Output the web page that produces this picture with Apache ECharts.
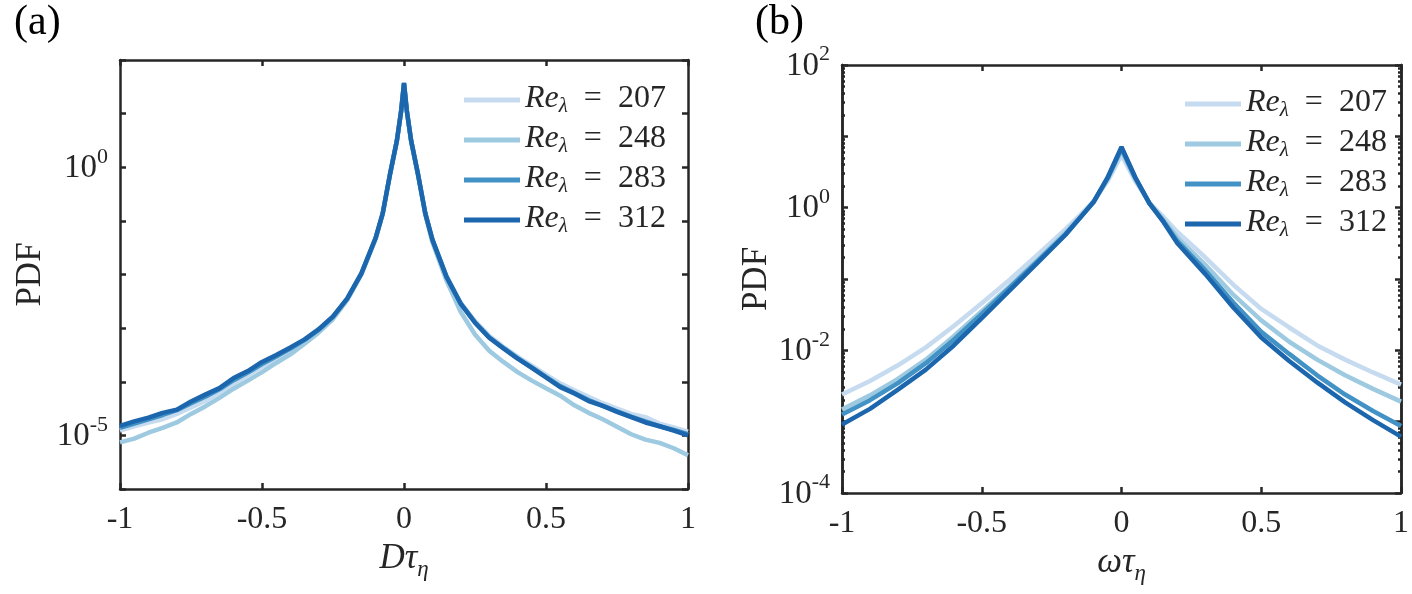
<!DOCTYPE html>
<html><head><meta charset="utf-8">
<script src="https://cdn.jsdelivr.net/npm/echarts@6/dist/echarts.min.js"></script>
<style>html,body{margin:0;padding:0;background:#fff}#c{width:1412px;height:594px}</style>
</head><body><div id="c"></div>
<script>
// ---- data ----
const reLabels = ['207', '248', '283', '312'];
const colors = ['#c6dbef', '#9ecae1', '#4292c6', '#1c66ad'];

// panel (a): PDF of D*tau_eta
const xA = [-1,-0.95,-0.9,-0.85,-0.8,-0.75,-0.7,-0.65,-0.6,-0.55,-0.5,-0.45,-0.4,-0.35,-0.3,-0.25,-0.2,-0.15,-0.1,-0.075,-0.05,-0.025,-0.01,0,0.01,0.025,0.05,0.075,0.1,0.15,0.2,0.25,0.3,0.35,0.4,0.45,0.5,0.55,0.6,0.65,0.7,0.75,0.8,0.85,0.9,0.95,1];
const pdfA207 = [1.23e-5,1.48e-5,1.74e-5,2.00e-5,2.51e-5,3.31e-5,4.37e-5,6.31e-5,9.12e-5,1.32e-4,1.91e-4,2.69e-4,3.80e-4,5.62e-4,8.91e-4,1.58e-3,3.47e-3,1.02e-2,4.68e-2,0.135,0.692,3.02,10.5,33.9,10.5,3.02,0.692,0.135,4.37e-2,8.91e-3,2.95e-3,1.35e-3,7.24e-4,4.47e-4,2.95e-4,2.00e-4,1.35e-4,9.33e-5,6.92e-5,5.25e-5,3.98e-5,3.16e-5,2.51e-5,2.19e-5,1.66e-5,1.41e-5,1.17e-5];
const pdfA248 = [7.41e-6,8.71e-6,1.12e-5,1.38e-5,1.74e-5,2.51e-5,3.47e-5,5.01e-5,7.41e-5,1.05e-4,1.51e-4,2.24e-4,3.24e-4,5.13e-4,8.32e-4,1.48e-3,3.31e-3,1.00e-2,4.57e-2,0.135,0.708,3.16,11.2,35.5,11.2,3.16,0.708,0.132,3.98e-2,7.59e-3,2.00e-3,7.59e-4,3.80e-4,2.34e-4,1.51e-4,1.05e-4,7.59e-5,5.50e-5,3.63e-5,2.63e-5,2.00e-5,1.45e-5,1.05e-5,8.32e-6,7.24e-6,5.75e-6,4.27e-6];
const pdfA283 = [1.38e-5,1.66e-5,2.00e-5,2.40e-5,2.95e-5,3.98e-5,5.25e-5,7.24e-5,1.07e-4,1.48e-4,2.14e-4,2.95e-4,4.17e-4,6.03e-4,9.33e-4,1.62e-3,3.55e-3,1.05e-2,4.79e-2,0.138,0.708,3.16,11.5,37.2,11.5,3.16,0.708,0.138,4.47e-2,9.12e-3,2.88e-3,1.29e-3,6.76e-4,4.27e-4,2.75e-4,1.86e-4,1.23e-4,8.32e-5,6.17e-5,4.57e-5,3.55e-5,2.82e-5,2.24e-5,1.82e-5,1.48e-5,1.26e-5,1.05e-5];
const pdfA312 = [1.51e-5,1.82e-5,2.14e-5,2.63e-5,3.02e-5,4.27e-5,5.75e-5,7.59e-5,1.17e-4,1.58e-4,2.34e-4,3.16e-4,4.37e-4,6.17e-4,9.55e-4,1.66e-3,3.55e-3,1.05e-2,4.79e-2,0.138,0.708,3.16,11.2,37.2,11.2,3.16,0.708,0.138,4.47e-2,8.91e-3,2.82e-3,1.26e-3,6.61e-4,4.17e-4,2.69e-4,1.82e-4,1.20e-4,7.94e-5,6.03e-5,4.37e-5,3.55e-5,2.75e-5,2.19e-5,1.74e-5,1.48e-5,1.23e-5,1.00e-5];

// panel (b): PDF of omega*tau_eta
const xB = [-1,-0.9,-0.8,-0.7,-0.6,-0.5,-0.4,-0.3,-0.2,-0.15,-0.1,-0.05,0,0.05,0.1,0.15,0.2,0.3,0.4,0.5,0.6,0.7,0.8,0.9,1];
const pdfB207 = [2.40e-3,3.72e-3,6.17e-3,1.10e-2,2.19e-2,4.57e-2,9.77e-2,0.219,0.501,0.776,1.23,2.34,5.50,2.34,1.17,0.741,0.457,0.200,8.32e-2,3.80e-2,2.09e-2,1.17e-2,7.41e-3,4.90e-3,3.31e-3];
const pdfB248 = [1.48e-3,2.34e-3,3.98e-3,7.41e-3,1.58e-2,3.55e-2,7.94e-2,0.186,0.447,0.724,1.20,2.51,6.31,2.51,1.15,0.676,0.380,0.158,6.03e-2,2.63e-2,1.32e-2,7.41e-3,4.47e-3,2.88e-3,1.91e-3];
const pdfB283 = [1.26e-3,2.00e-3,3.47e-3,6.61e-3,1.41e-2,3.24e-2,7.59e-2,0.178,0.427,0.708,1.20,2.57,6.76,2.57,1.15,0.646,0.339,0.132,4.68e-2,1.82e-2,8.91e-3,4.47e-3,2.40e-3,1.41e-3,8.71e-4];
const pdfB312 = [9.12e-4,1.51e-3,2.82e-3,5.37e-3,1.17e-2,2.82e-2,6.92e-2,0.170,0.417,0.708,1.20,2.63,7.08,2.63,1.15,0.631,0.316,0.117,3.98e-2,1.51e-2,7.08e-3,3.55e-3,1.86e-3,1.05e-3,6.17e-4];

// ticks
const xTickMin = -1, xTickMax = 1, xTickStep = 0.5;
const yTicksA = [1e-6,1e-5,1e-4,1e-3,1e-2,1e-1,1,10,100];
const yLabelsA = [1e-5, 1];
const yTicksB = [1e-4,1e-3,1e-2,1e-1,1,10,100];
const yLabelsB = [1e-4,1e-2,1,100];
const yMinorB = [];
for (let k = -4; k < 2; k++) for (let m = 2; m <= 9; m++) yMinorB.push(m * Math.pow(10, k));

// ---- chart ----
const FONT = '"Liberation Serif","DejaVu Serif",serif';
const INK = '#262626';
const chart = echarts.init(document.getElementById('c'), null, {renderer: 'canvas'});

const lineSt = {color: INK, width: 2.5};
const tickSt = {inside: true, length: 6, lineStyle: {color: INK, width: 2.5}};
const logRich = {
  b: {fontFamily: FONT, fontSize: 33, color: INK, lineHeight: 35, verticalAlign: 'bottom'},
  s: {fontFamily: FONT, fontSize: 22, color: INK, lineHeight: 22, padding: [0, 0, 17, 0], verticalAlign: 'bottom'}
};
function logFmt(v) {
  const e = Math.round(Math.log10(v));
  return '{b|10}{s|' + (e < 0 ? '-' + (-e) : e) + '}';
}
function xAx(grid, top, name) {
  const a = {
    type: 'value', gridIndex: grid, position: top ? 'top' : 'bottom',
    min: xTickMin, max: xTickMax, interval: xTickStep,
    axisLine: {show: true, onZero: false, lineStyle: lineSt},
    axisTick: tickSt, splitLine: {show: false},
    axisLabel: {show: !top, fontFamily: FONT, fontSize: 32, color: INK, margin: 15}
  };
  if (name) {
    a.name = name; a.nameLocation = 'middle'; a.nameGap = 52;
    a.nameTextStyle = {rich: {
      i: {fontFamily: FONT, fontStyle: 'italic', fontSize: 35, color: INK, lineHeight: 38, verticalAlign: 'top'},
      s: {fontFamily: FONT, fontStyle: 'italic', fontSize: 23, color: INK, lineHeight: 23, padding: [17, 0, 0, 0], verticalAlign: 'top'}
    }};
  }
  return a;
}
function yAx(grid, right, min, max, ticks, labels, tickLen, nameGap) {
  const a = {
    type: 'log', logBase: 10, gridIndex: grid, position: right ? 'right' : 'left',
    min: min, max: max,
    axisLine: {show: true, onZero: false, lineStyle: lineSt},
    axisTick: {inside: true, length: tickLen, customValues: ticks, lineStyle: {color: INK, width: 2.5}},
    splitLine: {show: false}, minorTick: {show: false},
    axisLabel: labels ? {show: true, customValues: labels, formatter: logFmt, rich: logRich, margin: 12}
                      : {show: false}
  };
  if (nameGap) {
    a.name = 'PDF'; a.nameLocation = 'middle'; a.nameGap = nameGap;
    a.nameTextStyle = {fontFamily: FONT, fontSize: 35, color: INK};
  }
  return a;
}

const xName = (sym) => '{i|' + sym + 'τ}{s|η}';

const series = [];
const setsA = [pdfA207, pdfA248, pdfA283, pdfA312];
const setsB = [pdfB207, pdfB248, pdfB283, pdfB312];
reLabels.forEach((r, i) => {
  series.push({type: 'line', name: r, xAxisIndex: 0, yAxisIndex: 0, showSymbol: false, symbol: 'none',
    color: colors[i], lineStyle: {width: 4.5, color: colors[i]}, z: 2 + i,
    data: xA.map((x, j) => [x, setsA[i][j]])});
  series.push({type: 'line', name: r, xAxisIndex: 2, yAxisIndex: 2, showSymbol: false, symbol: 'none',
    color: colors[i], lineStyle: {width: 4.5, color: colors[i]}, z: 2 + i,
    data: xB.map((x, j) => [x, setsB[i][j]])});
});

const legRich = {
  r: {fontFamily: FONT, fontStyle: 'italic', fontSize: 32, color: INK, lineHeight: 34, verticalAlign: 'top'},
  l: {fontFamily: FONT, fontStyle: 'italic', fontSize: 21, color: INK, lineHeight: 21, padding: [13, 0, 0, 0], verticalAlign: 'top'},
  e: {fontFamily: FONT, fontSize: 32, color: INK, lineHeight: 34, verticalAlign: 'top'}
};
function legend(left, top) {
  return {
    data: reLabels, orient: 'vertical', left: left, top: top, icon: 'rect',
    itemWidth: 56, itemHeight: 5, itemGap: 6, selectedMode: false,
    formatter: n => '{r|Re}{l|λ}{e|\u2002=\u2002' + n + '}',
    textStyle: {rich: legRich}
  };
}

chart.setOption({
  animation: false,
  backgroundColor: '#fff',
  grid: [
    {left: 120, top: 60, width: 568, height: 429},
    {left: 842, top: 65, width: 565, height: 428}
  ],
  xAxis: [xAx(0, false, xName('D')), xAx(0, true), xAx(1, false, xName('ω')), xAx(1, true)],
  yAxis: [
    yAx(0, false, 1e-6, 100, yTicksA, yLabelsA, 6, 72),
    yAx(0, true, 1e-6, 100, yTicksA, null, 6),
    yAx(1, false, 1e-4, 100, yTicksB, yLabelsB, 6, 68),
    yAx(1, true, 1e-4, 100, yTicksB, null, 6),
    yAx(1, false, 1e-4, 100, yMinorB, null, 3),
    yAx(1, true, 1e-4, 100, yMinorB, null, 3)
  ],
  legend: [legend(459, 78), legend(1180, 82)],
  series: series,
  graphic: [
    {type: 'text', left: 14, top: 2, style: {text: '(a)', fontFamily: FONT, fontSize: 42, fill: '#000'}},
    {type: 'text', left: 755, top: 2, style: {text: '(b)', fontFamily: FONT, fontSize: 42, fill: '#000'}}
  ]
});
</script></body></html>
